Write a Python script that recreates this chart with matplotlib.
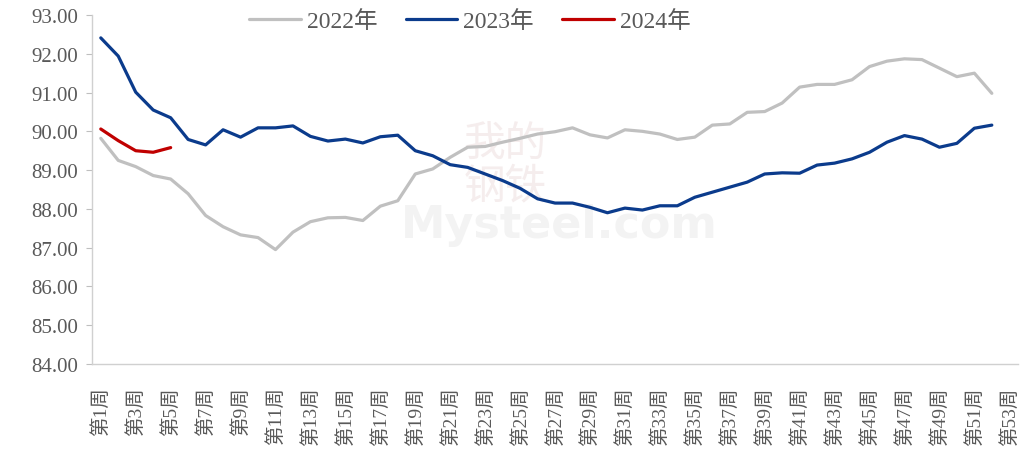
import matplotlib
matplotlib.use("Agg")
import matplotlib.pyplot as plt
import numpy as np

# weekly values
weeks = [f"第{i}周" for i in range(1, 54)]

y2022 = [89.82, 89.25, 89.09, 88.86, 88.77, 88.39, 87.83, 87.54, 87.33, 87.26,
         86.95, 87.40, 87.67, 87.77, 87.78, 87.70, 88.07, 88.21, 88.90, 89.03,
         89.33, 89.59, 89.61, 89.72, 89.82, 89.93, 89.99, 90.09, 89.91, 89.83,
         90.04, 90.00, 89.93, 89.79, 89.85, 90.16, 90.19, 90.49, 90.51, 90.73,
         91.14, 91.21, 91.21, 91.33, 91.67, 91.81, 91.87, 91.85, 91.63, 91.41,
         91.50, 90.98]
y2023 = [92.41, 91.94, 91.01, 90.55, 90.35, 89.79, 89.65, 90.04, 89.85, 90.09,
         90.09, 90.14, 89.87, 89.75, 89.80, 89.70, 89.86, 89.90, 89.50, 89.37,
         89.14, 89.07, 88.90, 88.73, 88.53, 88.26, 88.15, 88.15, 88.04, 87.90,
         88.02, 87.97, 88.08, 88.08, 88.30, 88.43, 88.56, 88.69, 88.90, 88.93,
         88.92, 89.13, 89.18, 89.29, 89.46, 89.72, 89.89, 89.80, 89.59, 89.69,
         90.08, 90.16]
y2024 = [90.06, 89.76, 89.50, 89.46, 89.58]

series = [("2022年", y2022, "#c0c0c0"),
          ("2023年", y2023, "#0b3b8c"),
          ("2024年", y2024, "#c00000")]

FONT = ["Liberation Serif", "Noto Sans CJK SC", "DejaVu Sans"]
TXT = "#595959"
plt.rcParams["font.family"] = FONT

fig = plt.figure(figsize=(10.25, 4.52), dpi=100)
ax = fig.add_axes([0.0898, 0.1925, 0.9034, 0.7721])

# faint watermark
ax.text(0.505, 0.40, "Mysteel.com", transform=ax.transAxes, ha="center",
        va="center", fontsize=32, color="#f3f3f3", family="DejaVu Sans",
        fontweight="bold", zorder=0)
ax.text(0.446, 0.57, "我的\n钢铁", transform=ax.transAxes, ha="center",
        va="center", fontsize=30, color="#f5eded", family="Noto Sans CJK SC",
        linespacing=1.0, zorder=0)

x = np.arange(len(weeks))
for name, vals, col in series:
    ax.plot(x[:len(vals)], vals, color=col, lw=2.3, label=name,
            solid_joinstyle="round", solid_capstyle="round", zorder=3)

ax.set_xlim(-0.5, len(weeks) - 0.5)
ax.set_ylim(84, 93)
ax.set_yticks(np.arange(84, 93.5, 1))
ax.set_yticklabels([f"{v:.2f}" for v in np.arange(84, 93.5, 1)])
ax.set_xticks(x[::2])
ax.set_xticklabels(weeks[::2], rotation=90, va="top", ha="center")

ax.tick_params(axis="y", direction="out", length=4, width=0.8,
               color="#bfbfbf", labelsize=15, labelcolor=TXT, pad=6)
ax.tick_params(axis="x", length=0, labelsize=14, labelcolor=TXT, pad=16)

for s in ("top", "right"):
    ax.spines[s].set_visible(False)
for s in ("left", "bottom"):
    ax.spines[s].set_color("#d0d0d0")
    ax.spines[s].set_linewidth(1.0)

leg = ax.legend(loc="center", bbox_to_anchor=(0.408, 0.983), ncol=3,
                frameon=False, fontsize=17, handlelength=2.2,
                handletextpad=0.25, columnspacing=1.2)
for t in leg.get_texts():
    t.set_color(TXT)

fig.savefig("out.png", dpi=100)
